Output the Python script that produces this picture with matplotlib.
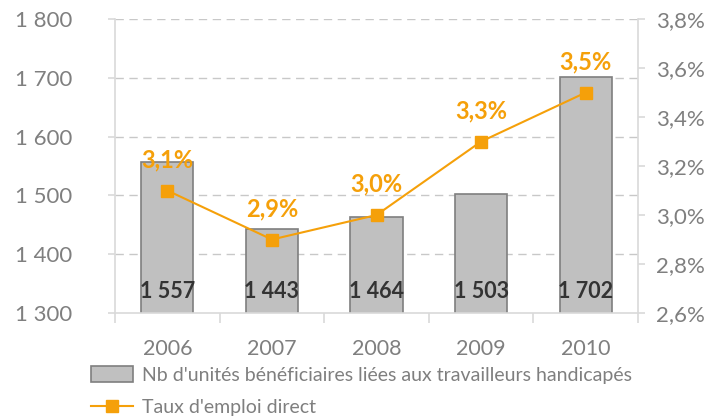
import matplotlib.pyplot as plt
from matplotlib.lines import Line2D
from matplotlib.patches import Patch
import numpy as np

years = ["2006", "2007", "2008", "2009", "2010"]
units = [1557, 1443, 1464, 1503, 1702]
taux = [3.1, 2.9, 3.0, 3.3, 3.5]
left_ticks = [1300, 1400, 1500, 1600, 1700, 1800]
right_ticks = [2.6, 2.8, 3.0, 3.2, 3.4, 3.6, 3.8]

GREY_TXT = "#7f7f7f"
ORANGE = "#f5a00a"
BAR = "#c0c0c0"
BAR_EDGE = "#7f7f7f"
AXIS = "#d9d9d9"

plt.rcParams["font.family"] = ["Lato", "DejaVu Sans"]


def fr_int(v):
    return f"{v:,}".replace(",", " ")


def fr_pct(v):
    return f"{v:.1f}%".replace(".", ",")


fig = plt.figure(figsize=(7.21, 4.18), dpi=100)
ax = fig.add_axes([0.1595, 0.2512, 0.7255, 0.7033])
x = np.arange(len(years))

ax.bar(x, units, width=0.5, bottom=0, color=BAR, edgecolor=BAR_EDGE, linewidth=1.2, zorder=2)
ax.set_ylim(1300, 1800)
ax.set_xlim(-0.5, len(years) - 0.5)
ax.set_yticks(left_ticks)
ax.set_yticklabels([fr_int(v) for v in left_ticks], fontsize=16, color=GREY_TXT)
for v in left_ticks[1:]:
    ax.axhline(v, color="#c8c8c8", linestyle=(0, (6, 4)), linewidth=1.0, zorder=1)

ax.set_xticks(x)
ax.set_xticklabels(years, fontsize=15.5, color=GREY_TXT)
ax.tick_params(axis="x", length=0, pad=19)
ax.set_xticks(np.arange(-0.5, len(years)), minor=True)
ax.tick_params(axis="x", which="minor", length=7, color=AXIS, width=1.2, direction="out")
ax.tick_params(axis="y", length=5, color=AXIS, width=1.2, pad=26)

for side in ["top", "right"]:
    ax.spines[side].set_visible(False)
for side in ["left", "bottom"]:
    ax.spines[side].set_color(AXIS)
    ax.spines[side].set_linewidth(1.2)

for xi, v in zip(x, units):
    ax.text(xi, 1336, fr_int(v), ha="center", va="center", fontsize=15.5,
            fontweight="bold", color="#333333", zorder=5)

ax2 = ax.twinx()
ax2.set_ylim(2.6, 3.8)
ax2.plot(x, taux, color=ORANGE, linewidth=1.5, marker="s", markersize=8, zorder=4)
ax2.set_yticks(right_ticks)
ax2.set_yticklabels([fr_pct(v) for v in right_ticks], fontsize=16, color=GREY_TXT)
ax2.tick_params(axis="y", length=5, color=AXIS, width=1.2, pad=8)
for side in ["top", "left", "bottom"]:
    ax2.spines[side].set_visible(False)
ax2.spines["right"].set_color(AXIS)
ax2.spines["right"].set_linewidth(1.2)

for xi, v in zip(x, taux):
    ax2.annotate(fr_pct(v), (xi, v), xytext=(0, 14), textcoords="offset points",
                 ha="center", va="bottom", fontsize=17, fontweight="bold", color=ORANGE)

handles = [
    Patch(facecolor=BAR, edgecolor=BAR_EDGE, linewidth=1.2,
          label="Nb d'unités bénéficiaires liées aux travailleurs handicapés"),
    Line2D([], [], color=ORANGE, marker="s", markersize=8, linewidth=1.5,
           label="Taux d'emploi direct"),
]
fig.legend(handles=handles, loc="upper left", bbox_to_anchor=(0.115, 0.143),
           frameon=False, fontsize=14, labelcolor=GREY_TXT, handlelength=2.2,
           handleheight=0.9, labelspacing=0.75, borderaxespad=0, handletextpad=0.45)

fig.savefig("out.png", dpi=100)
